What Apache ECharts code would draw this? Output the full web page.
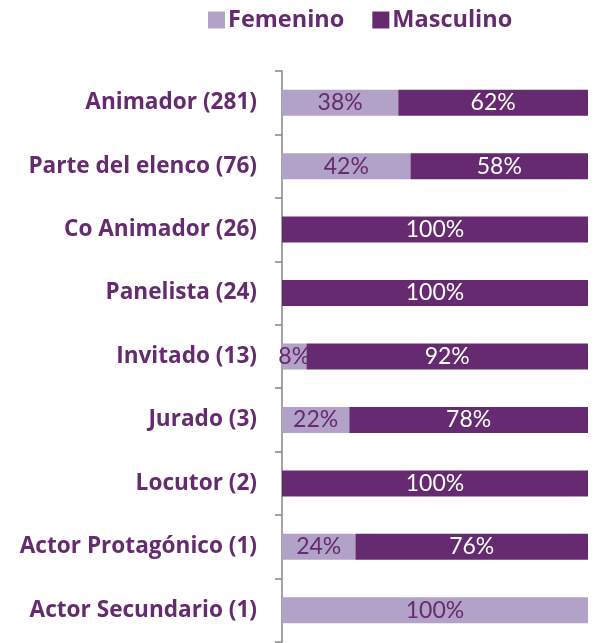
<!DOCTYPE html>
<html><head><meta charset="utf-8">
<script src="https://cdn.jsdelivr.net/npm/echarts@6/dist/echarts.min.js"></script>
<style>html,body{margin:0;padding:0;background:#fff}#c{width:594px;height:643px}</style>
</head><body><div id="c"></div>
<script>
const categories = ["Animador (281)","Parte del elenco (76)","Co Animador (26)","Panelista (24)","Invitado (13)","Jurado (3)","Locutor (2)","Actor Protagónico (1)","Actor Secundario (1)"];
const femenino = [38,42,0,0,8,22,0,24,100];
const masculino = [62,58,100,100,92,78,100,76,0];
const FONT = "'Open Sans', 'Noto Sans', sans-serif";
const NUMFONT = "Lato, 'Open Sans', sans-serif";
const chart = echarts.init(document.getElementById('c'));
chart.setOption({
  animation:false,
  legend:{top:3,left:203,itemWidth:17,itemHeight:17,itemGap:28,icon:'rect',
    textStyle:{color:'#652a6f',fontSize:23.5,fontWeight:'bold',fontFamily:FONT,padding:[0,0,0,-2]},
    data:['Femenino','Masculino']},
  grid:{left:282,right:6,top:71,bottom:1,containLabel:false},
  xAxis:{type:'value',min:0,max:100,show:false},
  yAxis:{type:'category',inverse:true,data:categories,
    axisLine:{lineStyle:{color:'#868686',width:1.5}},
    axisTick:{show:true,length:7,lineStyle:{color:'#868686',width:1.5}},
    axisLabel:{color:'#652a6f',fontSize:22.6,fontWeight:'bold',fontFamily:FONT,margin:25}},
  series:[
    {name:'Femenino',type:'bar',stack:'t',data:femenino,barWidth:'41%',
     itemStyle:{color:'#b3a2c7'},
     label:{show:true,position:'inside',color:'#652a6f',fontSize:23,fontFamily:NUMFONT,
       formatter:p=>p.value>0?p.value+'%':''}},
    {name:'Masculino',type:'bar',stack:'t',data:masculino,barWidth:'41%',
     itemStyle:{color:'#652a6f'},
     label:{show:true,position:'inside',color:'#ffffff',fontSize:23,fontFamily:NUMFONT,
       formatter:p=>p.value>0?p.value+'%':''}}
  ]
});
</script></body></html>
